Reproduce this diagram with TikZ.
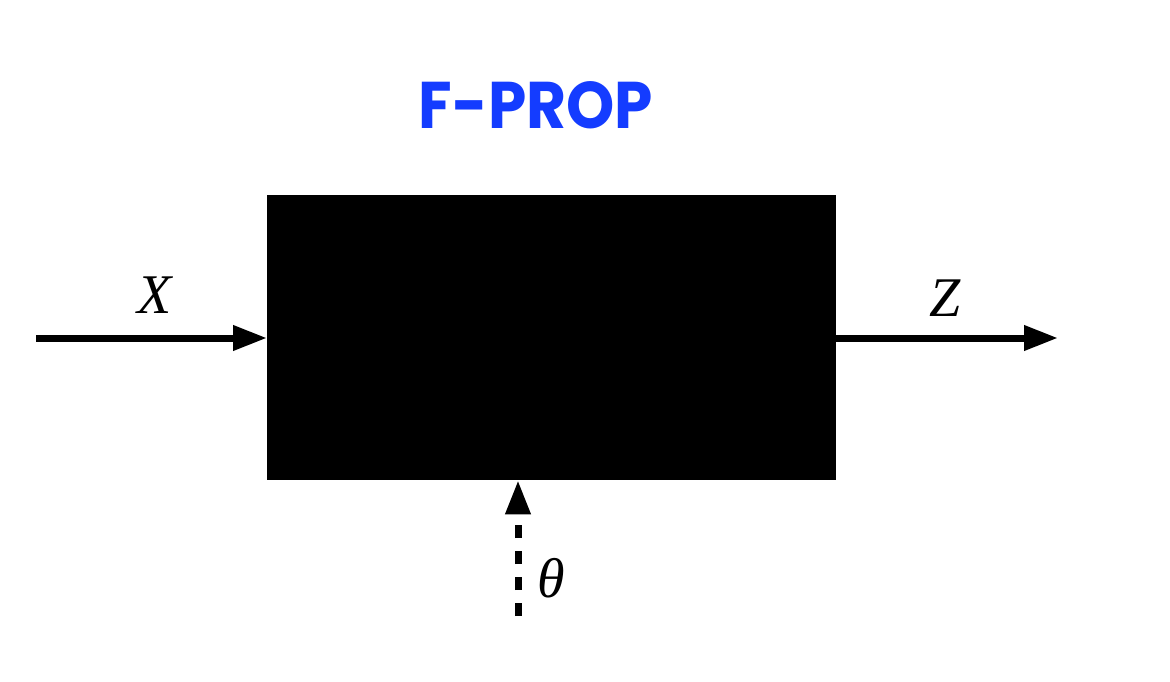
\documentclass[tikz,border=0pt]{standalone}
\usepackage{fontspec}
\setmainfont{Liberation Serif}
\newfontfamily\titlefont{Poppins}
\usetikzlibrary{arrows.meta}
\definecolor{titleblue}{RGB}{20,60,255}
\tikzset{
  conn/.style={line width=7pt,-{Triangle[length=34pt,width=24pt]}},
  dashconn/.style={conn,dash pattern=on 13pt off 13pt},
  lbl/.style={font=\fontsize{56}{60}\selectfont\itshape,inner sep=0pt},
}
\begin{document}
\begin{tikzpicture}[x=1pt,y=-1pt]
\useasboundingbox (0,0) rectangle (1170,682);
\node[fill=black,minimum width=569pt,minimum height=285pt,inner sep=0pt,anchor=north west] (box) at (267,195) {};
\node[text=titleblue,font=\titlefont\bfseries\fontsize{66}{70}\selectfont,inner sep=0pt] (title) at (536,105) {\scalebox{0.93}[1]{F-PROP}};
\coordinate (xin) at (36,338);
\coordinate (zout) at (1058,338);
\coordinate (thin) at (518,616);
\draw[conn] (xin) -- (box.west |- xin);
\draw[conn] (box.east |- zout) -- (zout);
\draw[dashconn] (thin) -- (thin |- box.south);
\node[lbl] (xl) at (155,295) {X};
\node[lbl] (zl) at (945,298) {Z};
\node[lbl] (tl) at (551,578) {θ};
\end{tikzpicture}
\end{document}
